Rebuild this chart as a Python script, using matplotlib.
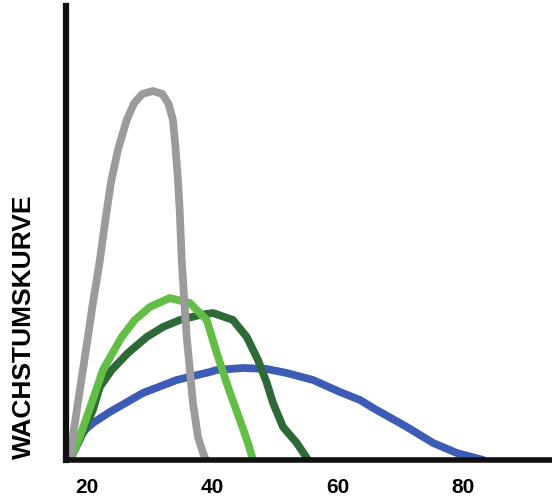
import matplotlib
matplotlib.use("Agg")
from matplotlib import pyplot as plt

plt.rcParams['font.family'] = ['Liberation Sans', 'DejaVu Sans']

# Kurvendaten (x in Tagen, y in Pixelhoehe ueber der Achse)
gray_x = [17.2, 17.7, 18.5, 19.3, 20.1, 20.9, 21.9, 22.9, 23.8, 24.9, 26.3, 27.5, 28.8, 30.5,
          32.0, 33.0, 33.7, 34.1, 34.5, 34.8, 35.1, 35.5, 35.9, 36.4, 36.9, 37.7, 38.5, 39.0]
gray_y = [0, 23, 57, 90, 123, 157, 195, 240, 278, 310, 340, 357, 366, 369,
          366, 356, 340, 313, 280, 247, 200, 160, 123, 90, 57, 23, 7, 0]

light_x = [17.2, 18.8, 20.7, 22.5, 25.5, 27.6, 30.0, 33.2, 36.4, 39.1, 40.7, 42.5, 44.4, 45.7, 46.5]
light_y = [0, 23, 57, 90, 123, 140, 153, 162, 157, 140, 107, 73, 40, 17, 0]

dark_x = [17.2, 19.0, 20.9, 22.0, 23.9, 26.5, 29.5, 32.1, 34.8, 38.0, 40.1, 43.3, 45.5,
          47.3, 48.7, 49.7, 51.3, 53.5, 55.3]
dark_y = [0, 23, 50, 73, 90, 107, 123, 133, 140, 145, 147, 140, 123,
          100, 77, 57, 33, 17, 0]

blue_x = [17.2, 17.7, 18.8, 19.8, 20.9, 23.6, 28.9, 34.3, 39.6, 40.7, 44.9, 48.7, 51.9, 56.1,
          60.4, 63.6, 65.7, 71.1, 75.3, 79.1, 83.3]
blue_y = [0, 10, 23, 31, 37, 48, 67, 80, 88, 90, 92, 91, 87, 80,
          68, 60, 52, 33, 17, 7, 0]

x_ticks = [20, 40, 60, 80]

fig = plt.figure(figsize=(5.52, 4.97), dpi=100)
ax = fig.add_axes([66 / 552, 37 / 497, 1 - 66 / 552, 454 / 497])

lw = 5.6
ax.plot(blue_x, blue_y, color='#3d5cb5', linewidth=lw, solid_capstyle='round', solid_joinstyle='round')
ax.plot(dark_x, dark_y, color='#2e6a38', linewidth=lw, solid_capstyle='round', solid_joinstyle='round')
ax.plot(light_x, light_y, color='#63be47', linewidth=lw, solid_capstyle='round', solid_joinstyle='round')
ax.plot(gray_x, gray_y, color='#9b9b9b', linewidth=lw, solid_capstyle='round', solid_joinstyle='round')

ax.set_xlim(16.6, 94.3)
ax.set_ylim(0, 454)

for s in ['top', 'right']:
    ax.spines[s].set_visible(False)
ax.spines['left'].set_linewidth(4.5)
ax.spines['bottom'].set_linewidth(4.0)
ax.spines['left'].set_color('#111111')
ax.spines['bottom'].set_color('#111111')
ax.spines['left'].set_capstyle('projecting')
ax.spines['bottom'].set_capstyle('projecting')

ax.set_xticks(x_ticks)
ax.set_xticklabels([str(t) for t in x_ticks], fontsize=15, fontweight='bold')
ax.tick_params(axis='x', length=0, pad=13)
ax.set_yticks([])

fig.text(23.5 / 552, 1 - 327 / 497, 'WACHSTUMSKURVE', rotation=90, fontsize=19,
         fontweight='bold', ha='center', va='center')

plt.savefig('out.png', dpi=100)
